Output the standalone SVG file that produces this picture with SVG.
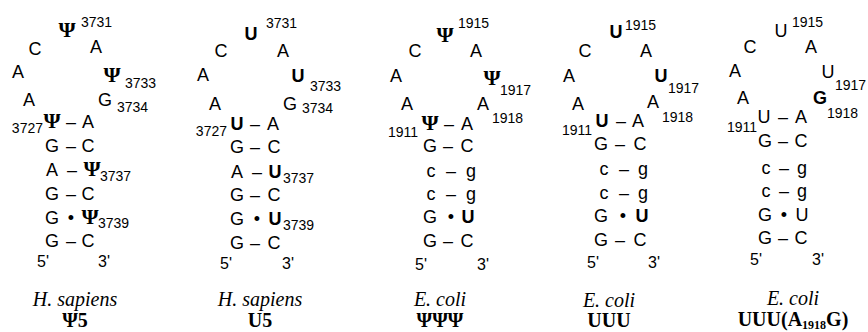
<svg xmlns="http://www.w3.org/2000/svg" width="868" height="332" viewBox="0 0 868 332">
<style>
text{fill:#000}
.n{font-family:"Liberation Sans",Arial,sans-serif;font-size:18px;text-anchor:middle}
.b{font-weight:bold}
.p{font-family:"Liberation Serif","Times New Roman",serif;font-size:22px;font-weight:bold;text-anchor:middle}
.d{font-family:"Liberation Sans",Arial,sans-serif;font-size:14px}
.e{text-anchor:end}
.s{font-family:"Liberation Sans",Arial,sans-serif;font-size:16px}
.l{font-family:"Liberation Serif","Times New Roman",serif;font-size:20px;font-style:italic;text-anchor:middle}
.lb{font-family:"Liberation Serif","Times New Roman",serif;font-size:20px;font-weight:bold;text-anchor:middle}
</style>
<rect width="868" height="332" fill="#fff"/>

<g id="hs-psi5">
<text class="p" x="67" y="37">Ψ</text><text class="d" x="81" y="27">3731</text>
<text class="n" x="35" y="55">C</text>
<text class="n" x="96" y="53">A</text>
<text class="n" x="18" y="78">A</text>
<text class="p" x="112" y="82">Ψ</text><text class="d" x="125" y="88">3733</text>
<text class="n" x="29" y="106">A</text>
<text class="n" x="105" y="106">G</text><text class="d" x="117" y="112">3734</text>
<text class="d e" x="43" y="133">3727</text>
<text class="p" x="52" y="128">Ψ</text><text class="n" x="88" y="128">A</text>
<text class="n" x="52" y="152">G</text><text class="n" x="88" y="152">C</text>
<text class="n" x="52" y="176">A</text><text class="p" x="92" y="176">Ψ</text><text class="d" x="100" y="181">3737</text>
<text class="n" x="52" y="200">G</text><text class="n" x="88" y="200">C</text>
<text class="n" x="52" y="224">G</text><text class="p" x="90" y="224">Ψ</text><text class="d" x="98" y="228">3739</text>
<text class="n" x="52" y="247">G</text><text class="n" x="88" y="247">C</text>
<text class="s" x="37" y="267">5'</text><text class="s" x="98" y="267">3'</text>
<text class="l" x="75" y="306">H. sapiens</text>
<text class="lb" x="75" y="327">Ψ5</text>
</g>

<g id="hs-u5">
<text class="n b" x="251" y="40">U</text><text class="d" x="266" y="28">3731</text>
<text class="n" x="221" y="57">C</text>
<text class="n" x="283" y="57">A</text>
<text class="n" x="203" y="81">A</text>
<text class="n b" x="298" y="82">U</text><text class="d" x="310" y="91">3733</text>
<text class="n" x="215" y="110">A</text>
<text class="n" x="290" y="110">G</text><text class="d" x="302" y="113">3734</text>
<text class="d e" x="227" y="136">3727</text>
<text class="n b" x="237" y="130">U</text><text class="n" x="273" y="130">A</text>
<text class="n" x="237" y="153">G</text><text class="n" x="274" y="153">C</text>
<text class="n" x="237" y="178">A</text><text class="n b" x="275" y="178">U</text><text class="d" x="283" y="183">3737</text>
<text class="n" x="237" y="201">G</text><text class="n" x="274" y="201">C</text>
<text class="n" x="237" y="225">G</text><text class="n b" x="275" y="225">U</text><text class="d" x="283" y="230">3739</text>
<text class="n" x="237" y="249">G</text><text class="n" x="274" y="249">C</text>
<text class="s" x="220" y="269">5'</text><text class="s" x="282" y="269">3'</text>
<text class="l" x="260" y="306">H. sapiens</text>
<text class="lb" x="260" y="327">U5</text>
</g>

<g id="ec-psi3">
<text class="p" x="445" y="42">Ψ</text><text class="d" x="458" y="28">1915</text>
<text class="n" x="415" y="57">C</text>
<text class="n" x="476" y="57">A</text>
<text class="n" x="396" y="82">A</text>
<text class="p" x="492" y="85">Ψ</text><text class="d" x="500" y="95">1917</text>
<text class="n" x="407" y="110">A</text>
<text class="n" x="483" y="110">A</text><text class="d" x="492" y="123">1918</text>
<text class="d e" x="418" y="137">1911</text>
<text class="p" x="430" y="130">Ψ</text><text class="n" x="467" y="130">A</text>
<text class="n" x="430" y="152">G</text><text class="n" x="467" y="152">C</text>
<text class="n" x="431" y="177">c</text><text class="n" x="471" y="177">g</text>
<text class="n" x="431" y="200">c</text><text class="n" x="471" y="200">g</text>
<text class="n" x="430" y="223">G</text><text class="n b" x="468" y="223">U</text>
<text class="n" x="430" y="247">G</text><text class="n" x="467" y="247">C</text>
<text class="s" x="415" y="270">5'</text><text class="s" x="477" y="270">3'</text>
<text class="l" x="440" y="306">E. coli</text>
<text class="lb" x="440" y="327">ΨΨΨ</text>
</g>

<g id="ec-uuu">
<text class="n b" x="616" y="38">U</text><text class="d" x="625" y="30">1915</text>
<text class="n" x="585" y="57">C</text>
<text class="n" x="646" y="57">A</text>
<text class="n" x="569" y="82">A</text>
<text class="n b" x="661" y="82">U</text><text class="d" x="668" y="93">1917</text>
<text class="n" x="578" y="110">A</text>
<text class="n" x="653" y="108">A</text><text class="d" x="662" y="122">1918</text>
<text class="d e" x="592" y="135">1911</text>
<text class="n b" x="602" y="127">U</text><text class="n" x="638" y="127">A</text>
<text class="n" x="601" y="150">G</text><text class="n" x="640" y="150">C</text>
<text class="n" x="604" y="175">c</text><text class="n" x="643" y="175">g</text>
<text class="n" x="604" y="199">c</text><text class="n" x="643" y="199">g</text>
<text class="n" x="601" y="222">G</text><text class="n b" x="642" y="222">U</text>
<text class="n" x="601" y="246">G</text><text class="n" x="640" y="246">C</text>
<text class="s" x="587" y="268">5'</text><text class="s" x="648" y="268">3'</text>
<text class="l" x="609" y="307">E. coli</text>
<text class="lb" x="609" y="327">UUU</text>
</g>

<g id="ec-uuu-a1918g">
<text class="n" x="781" y="37">U</text><text class="d" x="792" y="27">1915</text>
<text class="n" x="750" y="53">C</text>
<text class="n" x="811" y="53">A</text>
<text class="n" x="735" y="77">A</text>
<text class="n" x="828" y="78">U</text><text class="d" x="835" y="90">1917</text>
<text class="n" x="743" y="104">A</text>
<text class="n b" x="820" y="104">G</text><text class="d" x="827" y="118">1918</text>
<text class="d e" x="757" y="132">1911</text>
<text class="n" x="764" y="123">U</text><text class="n" x="801" y="123">A</text>
<text class="n" x="765" y="147">G</text><text class="n" x="801" y="147">C</text>
<text class="n" x="766" y="174">c</text><text class="n" x="802" y="174">g</text>
<text class="n" x="766" y="197">c</text><text class="n" x="802" y="197">g</text>
<text class="n" x="765" y="221">G</text><text class="n" x="802" y="221">U</text>
<text class="n" x="765" y="244">G</text><text class="n" x="801" y="244">C</text>
<text class="s" x="750" y="265">5'</text><text class="s" x="812" y="265">3'</text>
<text class="l" x="793" y="305">E. coli</text>
<text class="lb" x="793" y="326">UUU(A<tspan font-size="12" dy="3">1918</tspan><tspan dy="-3">G)</tspan></text>
</g>

<g id="connectors" class="n">
<text x="71" y="128">–</text><text x="71" y="152">–</text><text x="72" y="176">–</text><text x="71" y="200">–</text><text x="71" y="224">•</text><text x="71" y="247">–</text>
<text x="255" y="130">–</text><text x="255" y="153">–</text><text x="257" y="178">–</text><text x="255" y="201">–</text><text x="257" y="225">•</text><text x="255" y="249">–</text>
<text x="449" y="130">–</text><text x="448" y="152">–</text><text x="451" y="177">–</text><text x="451" y="200">–</text><text x="451" y="223">•</text><text x="448" y="247">–</text>
<text x="621" y="127">–</text><text x="620" y="150">–</text><text x="624" y="175">–</text><text x="624" y="199">–</text><text x="623" y="222">•</text><text x="620" y="246">–</text>
<text x="783" y="123">–</text><text x="783" y="147">–</text><text x="784" y="174">–</text><text x="784" y="197">–</text><text x="784" y="221">•</text><text x="783" y="244">–</text>
</g>
</svg>
